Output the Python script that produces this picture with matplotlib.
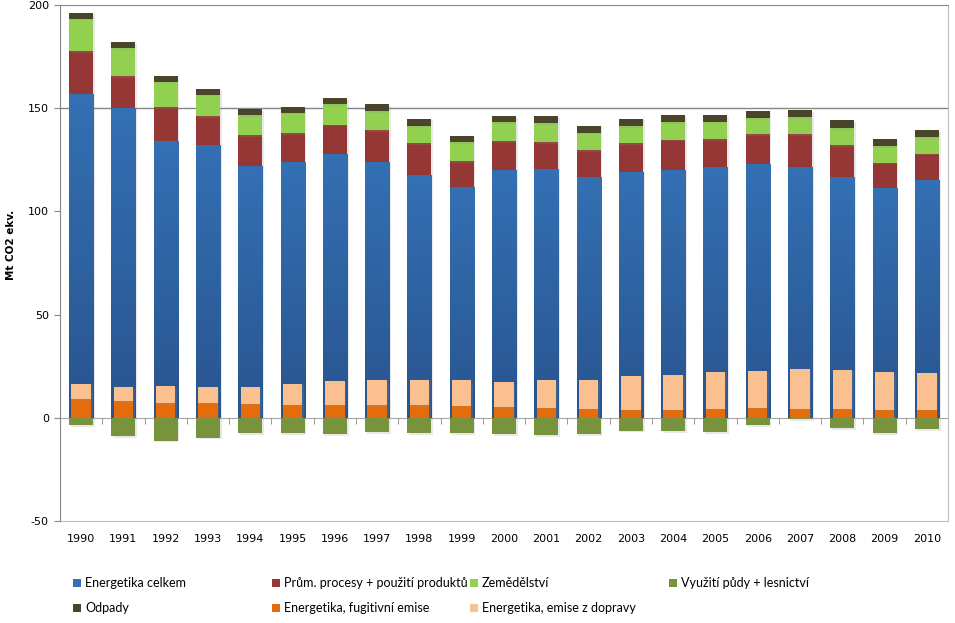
import numpy as np
import matplotlib
matplotlib.use("Agg")
import matplotlib.pyplot as plt
from matplotlib.patches import Patch
from matplotlib.colors import LinearSegmentedColormap
import matplotlib.patheffects as pe

plt.rcParams["axes.unicode_minus"] = False

years = [str(y) for y in range(1990, 2011)]
energy = [157.0, 150.0, 133.9, 132.4, 122.2, 123.7, 127.6, 123.7, 117.5, 111.7, 120.0,
          120.5, 116.5, 119.1, 120.1, 121.6, 122.8, 121.7, 116.9, 111.1, 115.0]
industry = [20.6, 15.4, 16.6, 13.6, 14.6, 14.2, 14.5, 15.5, 15.4, 12.6, 14.0,
            12.9, 13.2, 14.0, 14.7, 13.5, 14.7, 15.8, 15.1, 12.5, 13.0]
agriculture = [15.8, 13.7, 12.4, 10.6, 9.7, 9.9, 9.7, 9.5, 8.7, 9.1, 9.1,
               9.2, 8.5, 8.2, 8.4, 8.3, 7.9, 8.1, 8.3, 8.0, 7.9]
waste = [2.9, 2.9, 2.6, 2.8, 2.9, 3.0, 2.9, 3.1, 3.4, 2.9, 2.9,
         3.4, 3.4, 3.7, 3.3, 3.2, 3.3, 3.4, 3.9, 3.3, 3.4]
lulucf = [-3.7, -8.9, -11.0, -9.7, -7.3, -7.6, -7.8, -7.1, -7.3, -7.3, -7.9,
          -8.3, -7.8, -6.2, -6.5, -7.0, -3.7, -0.8, -5.0, -7.3, -5.6]
fugitive = [8.9, 7.9, 7.1, 7.3, 6.9, 6.4, 6.4, 6.1, 6.1, 5.5, 5.0,
            4.9, 4.5, 4.0, 4.0, 4.5, 4.8, 4.5, 4.5, 4.0, 4.0]
transport = [7.7, 6.8, 8.1, 7.4, 7.8, 10.2, 11.2, 12.2, 12.2, 12.6, 12.3,
             13.2, 13.8, 16.1, 16.8, 17.9, 18.1, 19.1, 18.8, 18.4, 17.5]

labels = ["Energetika celkem", "Prům. procesy + použití produktů", "Zemědělství",
          "Využití půdy + lesnictví", "Odpady", "Energetika, fugitivní emise",
          "Energetika, emise z dopravy"]

BLUE = "#3470B4"
BLUE_DARK = "#29548F"
RED = "#953735"
GREEN = "#92D050"
OLIVE = "#77933C"
BROWN = "#4A452A"
ORANGE = "#E46C0A"
LORANGE = "#FAC090"

fig = plt.figure(figsize=(9.55, 6.23), dpi=100)
ax = fig.add_axes([60/955, 1-521/623, 888/955, 516/623])

x = np.arange(len(years))
w = 0.57
w2 = 0.46
e = np.array(energy)
ind = np.array(industry)
agr = np.array(agriculture)

shadow = [pe.SimplePatchShadow(offset=(1.2, -1.2), shadow_rgbFace="#909090", alpha=0.2), pe.Normal()]

blue_bars = ax.bar(x, e, w, color=BLUE, zorder=2, path_effects=shadow)
cmap = LinearSegmentedColormap.from_list("bl", [BLUE_DARK, BLUE])
grad = np.linspace(1, 0, 256).reshape(-1, 1)
for r in blue_bars:
    im = ax.imshow(grad, cmap=cmap, aspect="auto", zorder=2.1,
                   extent=[r.get_x(), r.get_x() + r.get_width(), r.get_y(), r.get_y() + r.get_height()])
    im.set_clip_path(r)

ax.bar(x, ind, w, bottom=e, color=RED, zorder=2, path_effects=shadow)
ax.bar(x, agr, w, bottom=e + ind, color=GREEN, zorder=2, path_effects=shadow)
ax.bar(x, waste, w, bottom=e + ind + agr, color=BROWN, zorder=2, path_effects=shadow)
ax.bar(x, lulucf, w, color=OLIVE, zorder=2, path_effects=shadow)
ax.bar(x, fugitive, w2, color=ORANGE, zorder=3, path_effects=shadow)
ax.bar(x, transport, w2, bottom=fugitive, color=LORANGE, zorder=3, path_effects=shadow)

ax.set_xlim(-0.5, len(years) - 0.5)
ax.set_ylim(-50, 200)
ax.axhline(150, color="#868686", lw=1, zorder=1)

for s in ["left", "top"]:
    ax.spines[s].set_color("#868686")
ax.spines["right"].set_color("#BFBFBF")
ax.spines["bottom"].set_position(("data", 0))
ax.spines["bottom"].set_color("#A6A6A6")
ax.spines["bottom"].set_zorder(1.5)

ax.set_xticks([])
ax.set_xticks(np.arange(0.5, len(years) - 1, 1), minor=True)
ax.tick_params(axis="x", which="minor", direction="out", length=4, color="#868686", labelbottom=False)

ax.set_yticks(range(-50, 201, 50))
ax.tick_params(axis="y", direction="out", length=4, color="#868686", labelsize=8, pad=4)

sec = ax.secondary_xaxis(0.0)
sec.set_xticks(x, labels=years)
sec.tick_params(length=0, pad=9, labelsize=8)
sec.spines["bottom"].set_color("#BFBFBF")

ax.set_ylabel("Mt CO2 ekv.", fontsize=7.5, fontweight="bold")
ax.yaxis.set_label_coords(-0.05, 0.535)

colors = [BLUE, RED, GREEN, OLIVE, BROWN, ORANGE, LORANGE]
pos = [(73, 583), (272, 583), (470, 583), (669, 583), (73, 608), (272, 608), (470, 608)]
for lab, c, (px, py) in zip(labels, colors, pos):
    fig.legend([Patch(facecolor=c)], [lab], loc="center left",
               bbox_to_anchor=(px/955, 1 - py/623), frameon=False,
               borderpad=0, borderaxespad=0, handlelength=0.6, handleheight=0.6,
               handletextpad=0.35, prop={"family": "Lato", "size": 9})

fig.savefig("out.png", dpi=100)
